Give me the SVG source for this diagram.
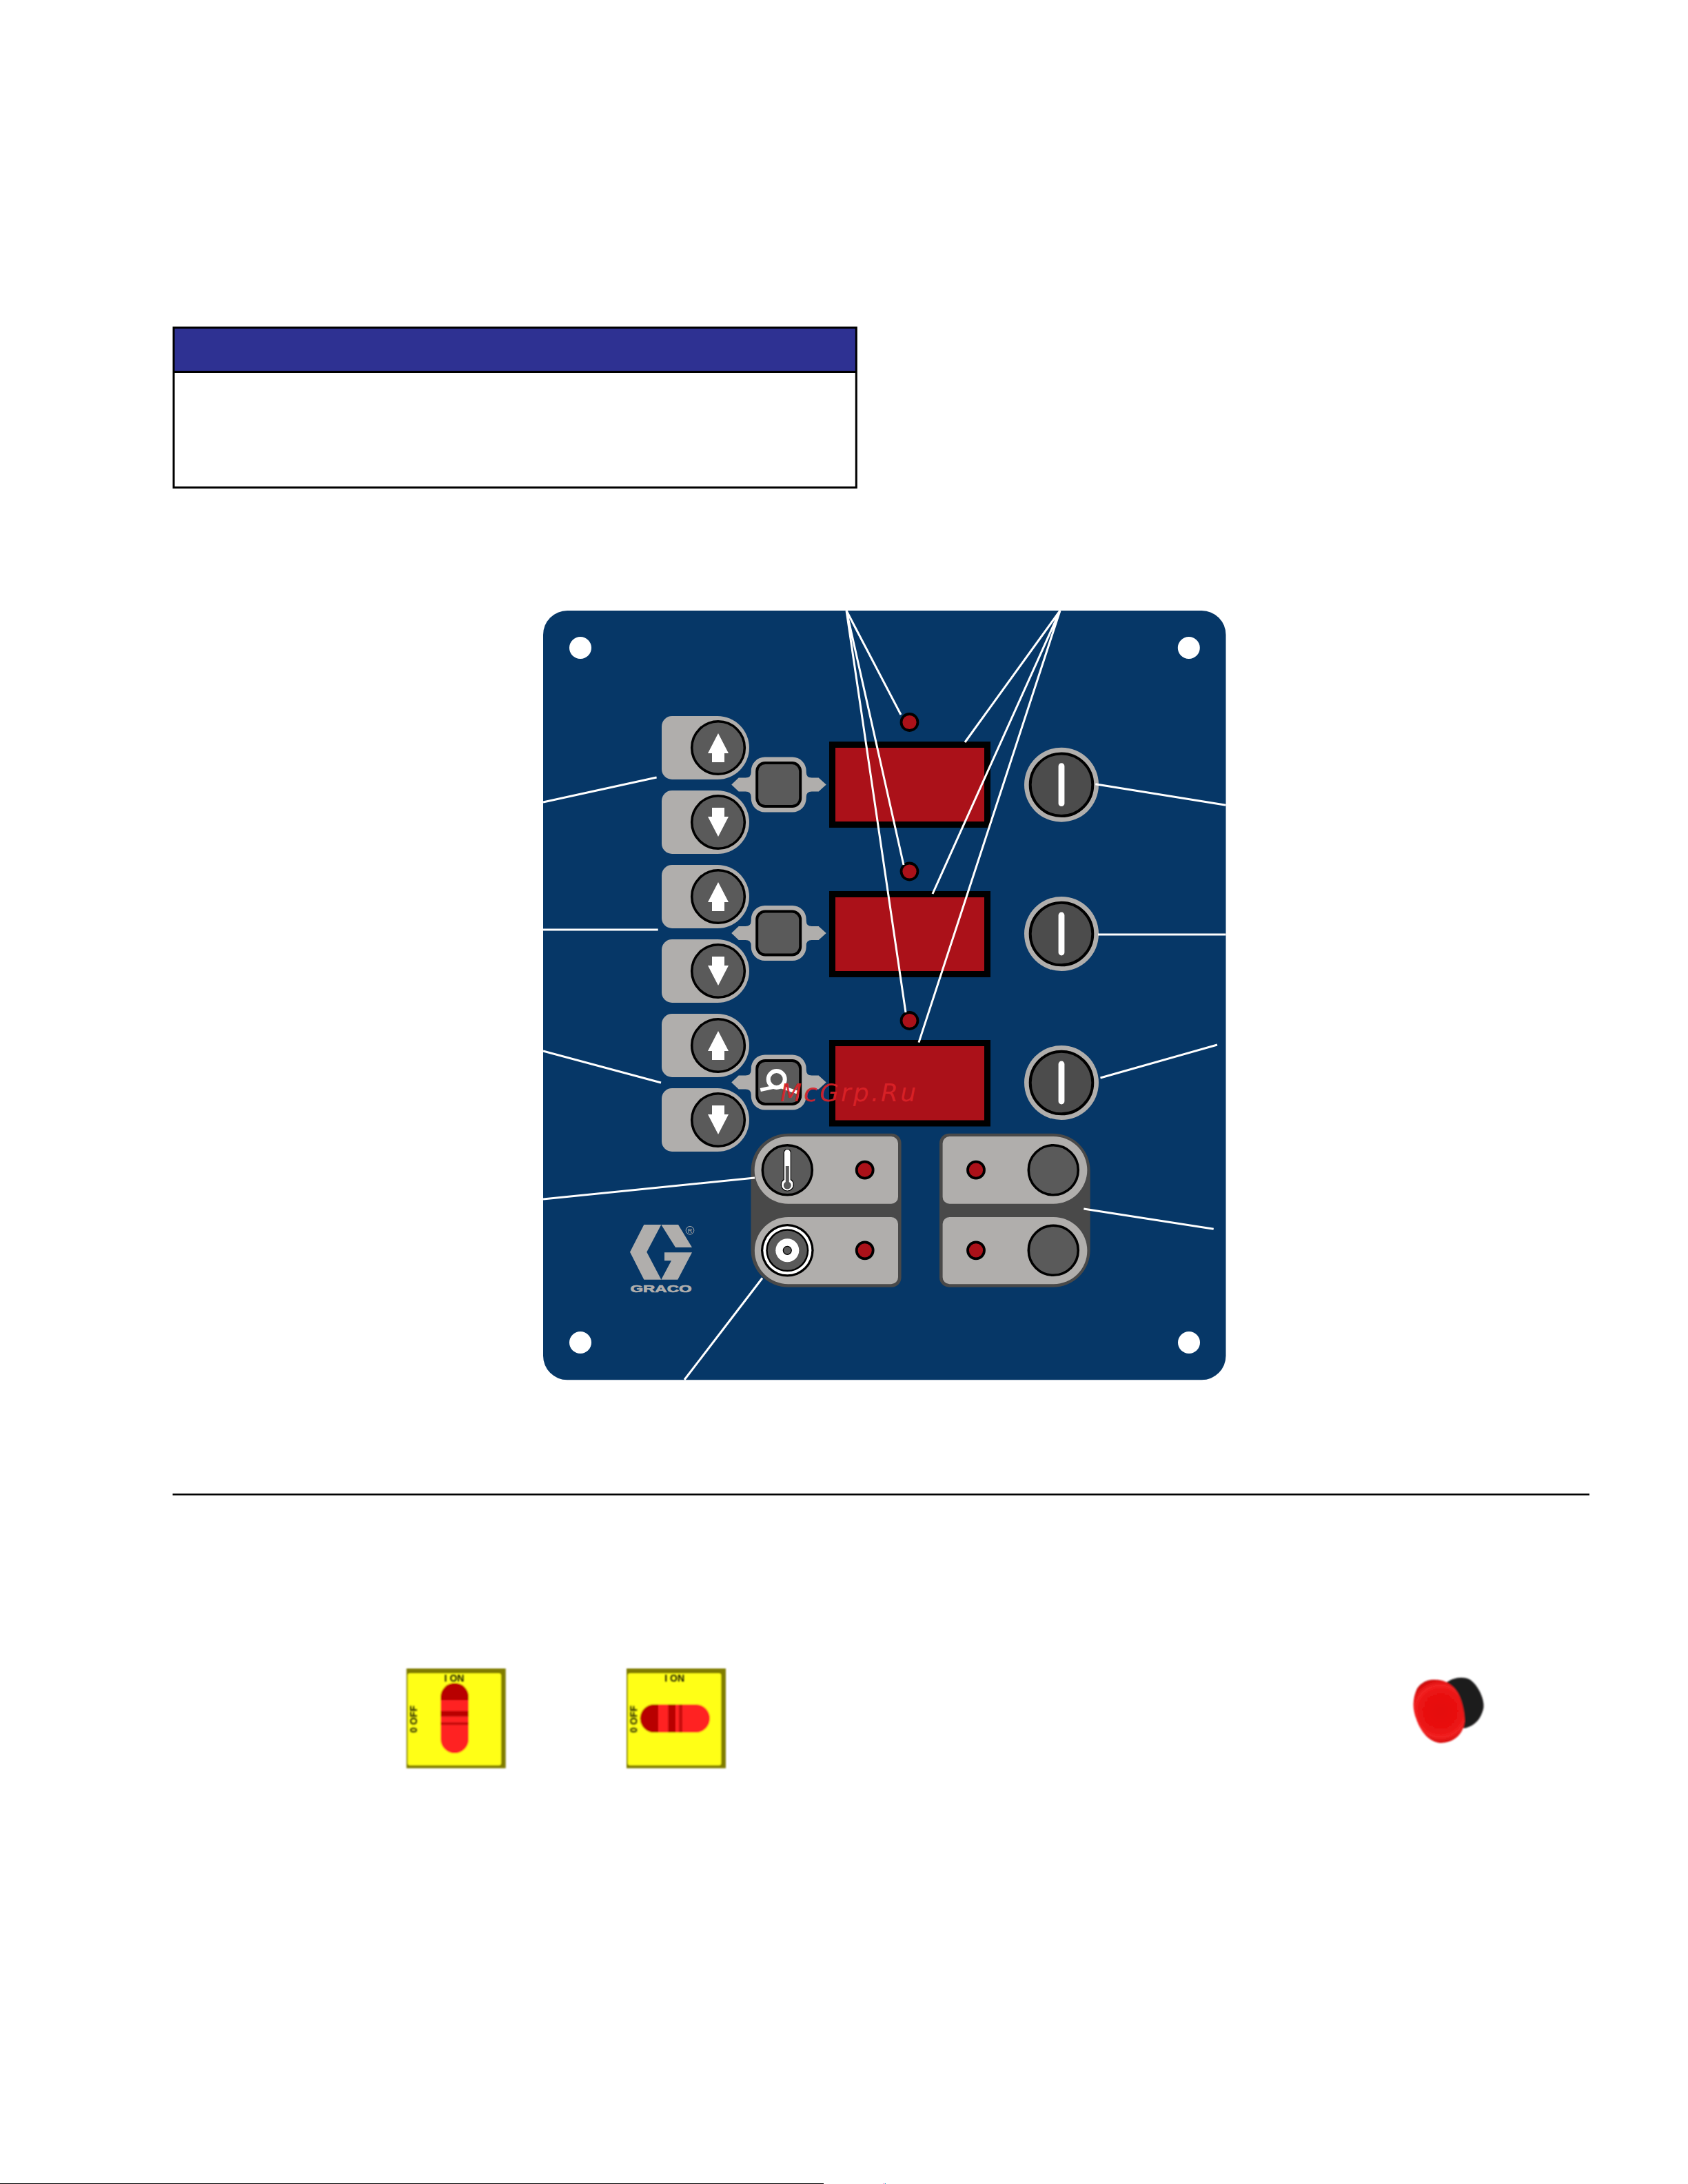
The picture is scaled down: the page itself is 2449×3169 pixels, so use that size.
<svg xmlns="http://www.w3.org/2000/svg" xmlns:xlink="http://www.w3.org/1999/xlink" width="2449" height="3169" viewBox="0 0 2449 3169">
<style>
.lgray{fill:#b0aeac}
.dark{fill:#5a5a5a}
.disp{fill:#ab1119;stroke:#000;stroke-width:9}
.led{fill:#ab1119;stroke:#000;stroke-width:3.800}
.ln{fill:none;stroke:#fff;stroke-width:3;stroke-linecap:butt}
.btn{fill:#5a5a5a;stroke:#000;stroke-width:3.600}
.sw-t{font-family:"Liberation Sans",Arial,sans-serif;font-weight:700;font-size:14px;fill:#1c1c00}
</style>
<defs>
<filter id="soft" x="-10%" y="-10%" width="120%" height="120%"><feGaussianBlur stdDeviation="0.8"/></filter>
<radialGradient id="redball" gradientUnits="userSpaceOnUse" cx="2090" cy="2483" r="50">
<stop offset="0" stop-color="#e41010"/><stop offset="0.6" stop-color="#ea1212"/><stop offset="0.75" stop-color="#f22222"/><stop offset="0.9" stop-color="#d80c0c"/><stop offset="1" stop-color="#a80808"/>
</radialGradient>
<g id="tab">
<path class="lgray" d="M15,0H81A46,46 0 0 1 81,92H15A15,15 0 0 1 0,77V15A15,15 0 0 1 15,0Z"/>
<circle class="btn" cx="82" cy="46" r="38.300"/>
</g>
<path id="up" fill="#fff" d="M0,-21L15,8H9V21H-9V8H-15Z"/>
<path id="down" fill="#fff" d="M0,21L15,-8H9V-21H-9V-8H-15Z"/>
<g id="sel">
<path class="lgray" d="M-68.500,0L-58,-10H-48Q-40,-10 -40,-18V-20A20,20 0 0 1 -20,-40H20A20,20 0 0 1 40,-20V-18Q40,-10 48,-10H58L69,0L58,10H48Q40,10 40,18V20A20,20 0 0 1 20,40H-20A20,20 0 0 1 -40,20V18Q-40,10 -48,10H-58Z"/>
<rect class="dark" x="-31.500" y="-31.500" width="63" height="63" rx="12" stroke="#000" stroke-width="4"/>
</g>
<g id="knob">
<circle cx="0" cy="0" r="54" fill="#b0aeac"/>
<circle cx="0" cy="0" r="45.300" fill="#4c4c4c" stroke="#000" stroke-width="4"/>
<rect x="-4.400" y="-31.400" width="8.800" height="62.800" rx="4.400" fill="#fff"/>
</g>
</defs>
<rect width="2449" height="3169" fill="#fff"/>

<g id="info-box">
<rect x="252" y="475.300" width="990.300" height="64.200" fill="#2e3192"/>
<rect x="252" y="475.300" width="990.300" height="232" fill="none" stroke="#000" stroke-width="3"/>
<line x1="252" y1="539.500" x2="1242" y2="539.500" stroke="#000" stroke-width="3"/>
</g>

<g id="panel">
<rect x="788" y="886" width="990.500" height="1116.300" rx="35" fill="#063767"/>
<circle cx="842" cy="940" r="16" fill="#fff"/>
<circle cx="1724.800" cy="940" r="16" fill="#fff"/>
<circle cx="842" cy="1948" r="16" fill="#fff"/>
<circle cx="1725" cy="1948" r="16" fill="#fff"/>
</g>

<g id="tab-1-up" transform="translate(960,1039)"><use href="#tab"/><use href="#up" x="82" y="46"/></g>
<g id="tab-1-down" transform="translate(960,1147)"><use href="#tab"/><use href="#down" x="82" y="46"/></g>
<g id="tab-2-up" transform="translate(960,1255)"><use href="#tab"/><use href="#up" x="82" y="46"/></g>
<g id="tab-2-down" transform="translate(960,1363)"><use href="#tab"/><use href="#down" x="82" y="46"/></g>
<g id="tab-3-up" transform="translate(960,1471)"><use href="#tab"/><use href="#up" x="82" y="46"/></g>
<g id="tab-3-down" transform="translate(960,1579)"><use href="#tab"/><use href="#down" x="82" y="46"/></g>

<g id="select-1" transform="translate(1129.700,1138.600)"><use href="#sel"/></g>
<g id="select-2" transform="translate(1129.700,1354)"><use href="#sel"/></g>
<g id="select-3" transform="translate(1129.700,1570.500)"><use href="#sel"/>
<circle cx="-3" cy="-4.500" r="12" fill="none" stroke="#fff" stroke-width="6"/>
<path d="M-26.400,11L-8,7M2,6L27,14.500" fill="none" stroke="#fff" stroke-width="5"/>
</g>

<g id="display-1"><rect class="disp" x="1207.500" y="1080.500" width="225" height="116"/></g>
<g id="display-2"><rect class="disp" x="1207.500" y="1297.500" width="225" height="116"/></g>
<g id="display-3"><rect class="disp" x="1207.500" y="1513.500" width="225" height="116.500"/></g>
<g id="led-1"><circle class="led" cx="1319.500" cy="1048" r="12"/></g>
<g id="led-2"><circle class="led" cx="1319.500" cy="1264.500" r="12"/></g>
<g id="led-3"><circle class="led" cx="1319.500" cy="1481" r="12"/></g>

<g id="knob-1" transform="translate(1540,1138.700)"><use href="#knob"/></g>
<g id="knob-2" transform="translate(1540,1355)"><use href="#knob"/></g>
<g id="knob-3" transform="translate(1540,1571)"><use href="#knob"/></g>

<g id="group-left">
<path fill="#494949" d="M1144,1644.700H1294A14,14 0 0 1 1307.600,1658.700V1853.700A14,14 0 0 1 1294,1867.700H1144A54,54 0 0 1 1089.500,1813.700V1698.700A54,54 0 0 1 1144,1644.700Z"/>
<path class="lgray" d="M1143.500,1649H1293A10,10 0 0 1 1303,1659V1736.700A10,10 0 0 1 1293,1746.700H1143.500A48.800,48.800 0 0 1 1143.500,1649Z"/>
<path class="lgray" d="M1143.500,1766H1293A10,10 0 0 1 1303,1776V1853.300A10,10 0 0 1 1293,1863.300H1143.500A48.600,48.600 0 0 1 1143.500,1766Z"/>
<circle class="btn" cx="1142.300" cy="1697.700" r="36"/>
<g id="thermometer">
<path d="M1142.300,1667.500a5,5 0 0 1 5,5V1711.500a9,9 0 1 1 -10,0V1672.500a5,5 0 0 1 5,-5Z" fill="#fff" stroke="#000" stroke-width="1.200"/>
<rect x="1139.800" y="1692" width="5" height="24" fill="#5a5a5a"/>
<circle cx="1142.300" cy="1720" r="5.500" fill="#5a5a5a"/>
</g>
<circle class="led" cx="1254.700" cy="1697.700" r="12"/>
<g id="target">
<circle cx="1142.300" cy="1814.300" r="38.300" fill="#000"/>
<circle cx="1142.300" cy="1814.300" r="35" fill="#fff"/>
<circle cx="1142.300" cy="1814.300" r="31" fill="#000"/>
<circle cx="1142.300" cy="1814.300" r="28.500" fill="#5a5a5a"/>
<circle cx="1142.300" cy="1814.300" r="17" fill="#fff"/>
<circle cx="1142.300" cy="1814.300" r="6" fill="#5a5a5a" stroke="#000" stroke-width="1.200"/>
</g>
<circle class="led" cx="1254.700" cy="1814.300" r="12"/>
</g>

<g id="group-right">
<path fill="#494949" d="M1377,1644.700H1527.500A54,54 0 0 1 1581.700,1698.700V1813.700A54,54 0 0 1 1527.500,1867.700H1377A14,14 0 0 1 1363,1853.700V1658.700A14,14 0 0 1 1377,1644.700Z"/>
<path class="lgray" d="M1377.600,1649H1528.500A48.800,48.800 0 0 1 1528.500,1746.700H1377.600A10,10 0 0 1 1367.600,1736.700V1659A10,10 0 0 1 1377.600,1649Z"/>
<path class="lgray" d="M1377.600,1766H1528.700A48.600,48.600 0 0 1 1528.700,1863.300H1377.600A10,10 0 0 1 1367.600,1853.300V1776A10,10 0 0 1 1377.600,1766Z"/>
<circle class="led" cx="1416" cy="1697.700" r="12"/>
<circle class="led" cx="1416" cy="1814.300" r="12"/>
<circle class="btn" cx="1528.300" cy="1697.700" r="36"/>
<circle class="btn" cx="1528.300" cy="1814.300" r="36"/>
</g>

<g id="logo">
<path class="lgray" d="M914,1816.700L934.300,1777H959.300L938.300,1816.700L959.300,1856.700H934.300Z"/>
<path class="lgray" d="M959.300,1777H984L1004,1810H980Z"/>
<path class="lgray" d="M964,1817.300H1004L983.300,1856.700H959.300L974,1829.300H964Z"/>
<circle cx="1001" cy="1785.300" r="5.800" fill="none" stroke="#b0aeac" stroke-width="1"/>
<text x="1001" y="1788.500" text-anchor="middle" font-family="Liberation Sans,Arial,sans-serif" font-size="9" fill="#b0aeac">R</text>
<text x="914.500" y="1875" font-family="Liberation Sans,Arial,sans-serif" font-weight="700" font-size="15.500" fill="#b0aeac" stroke="#b0aeac" stroke-width="0.700" textLength="89" lengthAdjust="spacingAndGlyphs">GRACO</text>
</g>

<g id="connectors">
<path class="ln" d="M1228,886L1307,1037M1228,886L1311,1255M1228,886L1314,1469"/>
<path class="ln" d="M1538,886L1400,1077M1538,886L1353,1297M1538,886L1333,1512.600"/>
<path class="ln" d="M788,1164L952.600,1128M788,1349H954.700M788,1525L959,1571"/>
<path class="ln" d="M1589.300,1137.700L1778.500,1168.300M1593,1356H1778.500M1596.500,1564L1766,1516"/>
<path class="ln" d="M788,1740L1095,1709M1106,1854.500L993,2002M1572.300,1754L1760.700,1783.300"/>
</g>

<line id="rule" x1="250.500" y1="2168.500" x2="2306" y2="2168.500" stroke="#000" stroke-width="2.600"/>

<g id="switch-vertical">
<g filter="url(#soft)">
<rect x="589.700" y="2421" width="144" height="144.700" fill="#807b00"/>
<rect x="591.500" y="2428" width="135.500" height="133.500" rx="3" fill="#ffff14"/>
<rect x="639.300" y="2442" width="40.700" height="102" rx="20.300" fill="#ff2020"/>
<path d="M639.300,2467V2462.300A20.300,20.300 0 0 1 680,2462.300V2467Z" fill="#b80000"/>
<rect x="639.300" y="2482.700" width="40.700" height="8" fill="#b80000"/>
<rect x="639.300" y="2499" width="40.700" height="4" fill="#c80808"/>
</g>
<text class="sw-t" x="659" y="2440" text-anchor="middle" filter="url(#soft)">I ON</text>
<text class="sw-t" transform="translate(605,2494.500) rotate(-90)" text-anchor="middle" filter="url(#soft)">0 OFF</text>
</g>

<g id="switch-horizontal">
<g filter="url(#soft)">
<rect x="909" y="2421" width="144" height="144.700" fill="#807b00"/>
<rect x="910.800" y="2428" width="135.500" height="133.500" rx="3" fill="#ffff14"/>
<rect x="928.700" y="2473" width="101.300" height="41" rx="20.500" fill="#ff2020"/>
<path d="M955,2473H949.200A20.500,20.500 0 0 0 949.200,2514H955Z" fill="#b80000"/>
<rect x="969.300" y="2473" width="10.700" height="41" fill="#b80000"/>
<rect x="985" y="2473" width="5" height="41" fill="#c80808"/>
</g>
<text class="sw-t" x="978.700" y="2440" text-anchor="middle" filter="url(#soft)">I ON</text>
<text class="sw-t" transform="translate(924.300,2494.500) rotate(-90)" text-anchor="middle" filter="url(#soft)">0 OFF</text>
</g>

<g id="stop-button" filter="url(#soft)">
<path fill="#1e1c1c" d="M2098,2441.700C2107,2435 2120,2431.700 2132,2436.700C2147,2446.700 2155,2470 2152,2480C2148,2495 2140,2503.300 2127,2507.300L2100,2510Z"/>
<path fill="url(#redball)" d="M2080,2437.300C2095,2437 2105,2443 2112,2452C2121,2463 2125,2485 2125,2497C2124,2515 2110,2529 2090,2529C2075,2528 2062,2515 2055,2495C2049,2480 2049,2465 2056,2450C2062,2441 2072,2437 2080,2437.300Z"/>
</g>

<g id="page-foot">
<rect x="0" y="3168" width="1195" height="1" fill="#000"/>
<rect x="1282" y="3168" width="1" height="1" fill="#d0109a"/>
<rect x="1284" y="3168" width="1" height="1" fill="#10b0d0"/>
</g>

<text id="watermark" x="1132" y="1598" font-family="DejaVu Sans,Verdana,sans-serif" font-style="italic" font-size="36" fill="#dc2228" fill-opacity="0.92" textLength="197" lengthAdjust="spacing">McGrp.Ru</text>
</svg>
